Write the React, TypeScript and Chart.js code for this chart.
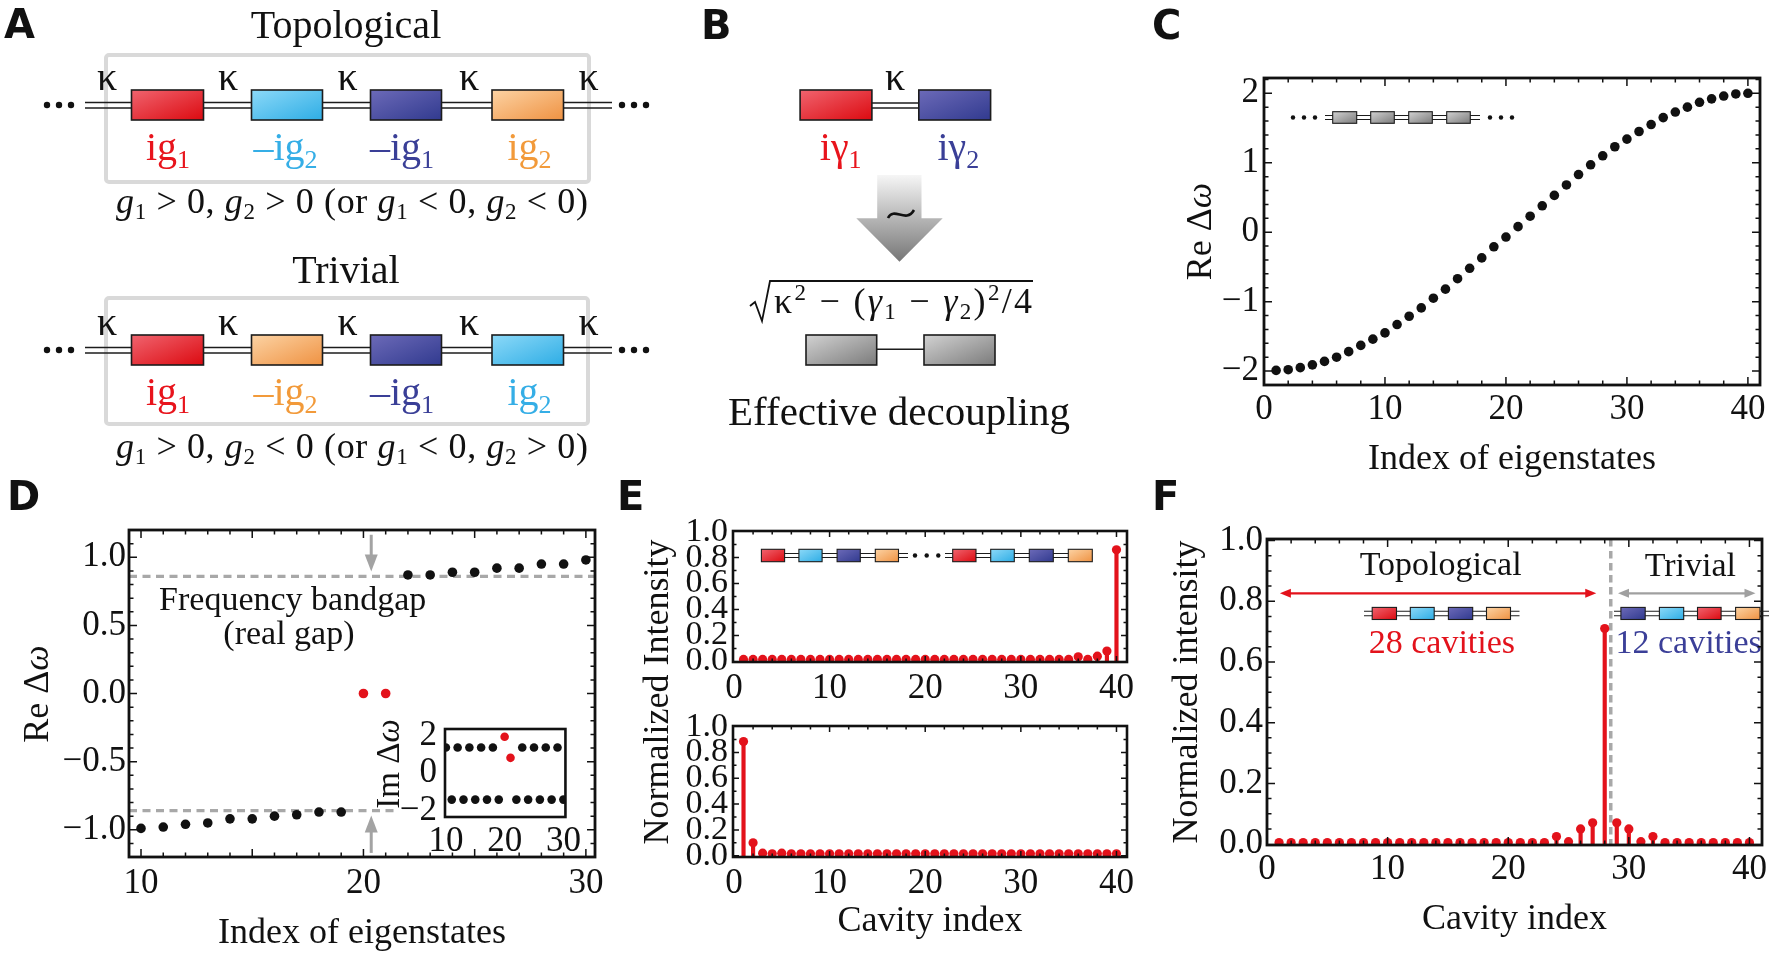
import React, { useEffect, useRef } from 'react';
import { Chart, registerables } from 'chart.js';

Chart.register(...registerables);

const SERIF = "'Liberation Serif', 'Times New Roman', Times, serif";
const SANS = "'DejaVu Sans', 'Liberation Sans', Arial, sans-serif";
const INK = '#111111';
const RED = '#e3121b';
const NAVY_TXT = '#3b3f98';
const GRAY_ANN = '#a8a8a8';
const TICK_FONT = 35;

// ---------------- data ----------------
const eigenIndexC = [1, 2, 3, 4, 5, 6, 7, 8, 9, 10, 11, 12, 13, 14, 15, 16, 17, 18, 19, 20, 21, 22, 23, 24, 25, 26, 27, 28, 29, 30, 31, 32, 33, 34, 35, 36, 37, 38, 39, 40];
const reOmegaC = [-1.99, -1.98, -1.95, -1.91, -1.86, -1.8, -1.72, -1.63, -1.54, -1.45, -1.33, -1.21, -1.09, -0.95, -0.82, -0.67, -0.52, -0.37, -0.21, -0.07, 0.08, 0.23, 0.38, 0.53, 0.68, 0.83, 0.97, 1.1, 1.23, 1.34, 1.45, 1.55, 1.65, 1.73, 1.8, 1.87, 1.92, 1.96, 1.99, 2.0];

const eigenIndexD = [10, 11, 12, 13, 14, 15, 16, 17, 18, 19, 20, 21, 22, 23, 24, 25, 26, 27, 28, 29, 30];
const reOmegaD = [-0.99, -0.98, -0.96, -0.95, -0.92, -0.92, -0.9, -0.89, -0.87, -0.87, 0.0, 0.0, 0.87, 0.87, 0.89, 0.89, 0.92, 0.92, 0.95, 0.95, 0.98];
const imOmegaD = [1.37, -1.41, 1.37, -1.41, 1.37, -1.41, 1.37, -1.41, 1.37, -1.41, 1.95, 0.82, -1.41, 1.37, -1.41, 1.37, -1.41, 1.37, -1.41, 1.37, -1.41];
const zeroModeIndex = [20, 21];
const gapEdges = [0.86, -0.86];

const cavityIndex = [1, 2, 3, 4, 5, 6, 7, 8, 9, 10, 11, 12, 13, 14, 15, 16, 17, 18, 19, 20, 21, 22, 23, 24, 25, 26, 27, 28, 29, 30, 31, 32, 33, 34, 35, 36, 37, 38, 39, 40];
const intensityETop = [0.015, 0.015, 0.015, 0.015, 0.015, 0.015, 0.015, 0.015, 0.015, 0.015, 0.015, 0.015, 0.015, 0.015, 0.015, 0.015, 0.015, 0.015, 0.015, 0.015, 0.015, 0.015, 0.015, 0.015, 0.015, 0.015, 0.015, 0.015, 0.015, 0.015, 0.015, 0.015, 0.015, 0.015, 0.015, 0.035, 0.015, 0.04, 0.08, 0.86];
const intensityEBottom = [0.885, 0.1, 0.02, 0.015, 0.02, 0.015, 0.015, 0.015, 0.015, 0.015, 0.015, 0.015, 0.015, 0.015, 0.015, 0.015, 0.015, 0.015, 0.015, 0.015, 0.015, 0.015, 0.015, 0.015, 0.015, 0.015, 0.015, 0.015, 0.015, 0.015, 0.015, 0.015, 0.015, 0.015, 0.015, 0.015, 0.015, 0.015, 0.015, 0.015];
const intensityF = [0.005, 0.005, 0.005, 0.005, 0.005, 0.005, 0.005, 0.005, 0.005, 0.005, 0.005, 0.005, 0.005, 0.005, 0.005, 0.005, 0.005, 0.005, 0.005, 0.005, 0.005, 0.005, 0.005, 0.025, 0.008, 0.05, 0.07, 0.71, 0.07, 0.05, 0.008, 0.025, 0.005, 0.005, 0.005, 0.005, 0.005, 0.005, 0.005, 0.005];
const interfaceF = 28.5;

const ticksC_X = [0, 10, 20, 30, 40];
const ticksC_Y = [-2, -1, 0, 1, 2];
const ticksD_X = [10, 20, 30];
const ticksD_Y = [-1, -0.5, 0, 0.5, 1];
const ticksIn_X = [10, 20, 30];
const ticksIn_Y = [-2, 0, 2];
const ticksE_X = [0, 10, 20, 30, 40];
const ticksE_Y = [0, 0.2, 0.4, 0.6, 0.8, 1.0];

// ---------------- helpers ----------------
const steps = (a: number, b: number, s: number) => {
  const r: number[] = [];
  for (let v = a; v <= b + 1e-9; v += s) r.push(+v.toFixed(4));
  return r;
};

const fmt = (dec: number) => (v: any) => {
  const n = Number(v);
  const s = (Math.abs(n) < 1e-9 ? 0 : n).toFixed(dec);
  return s.replace('-', '\u2212');
};

function xAxis(o: any) {
  return {
    type: 'linear',
    position: 'bottom',
    min: o.min,
    max: o.max,
    offset: false,
    afterBuildTicks: (s: any) => {
      s.ticks = o.ticks.map((v: number) => ({ value: v }));
    },
    afterFit: (s: any) => {
      s.height = o.size;
    },
    grid: { display: false, drawTicks: false },
    border: { display: false },
    ticks: {
      autoSkip: false,
      maxRotation: 0,
      minRotation: 0,
      padding: o.pad,
      color: INK,
      font: { family: SERIF, size: o.font || TICK_FONT, lineHeight: 1.2 },
      callback: fmt(o.dec),
    },
    title: o.title
      ? { display: true, text: o.title, color: INK, font: { family: SERIF, size: 36, lineHeight: 1 }, padding: { top: 0, bottom: o.tpad } }
      : { display: false },
  };
}

function yAxis(o: any) {
  return {
    type: 'linear',
    position: 'left',
    min: o.min,
    max: o.max,
    afterBuildTicks: (s: any) => {
      s.ticks = o.ticks.map((v: number) => ({ value: v }));
    },
    afterFit: (s: any) => {
      s.width = o.size;
    },
    grid: { display: false, drawTicks: false },
    border: { display: false },
    ticks: {
      autoSkip: false,
      padding: o.pad,
      color: INK,
      font: { family: SERIF, size: o.font || TICK_FONT, lineHeight: 1.2 },
      callback: fmt(o.dec),
    },
    title: o.title
      ? { display: true, text: o.title, color: INK, font: { family: SERIF, size: 36, lineHeight: 1 }, padding: { top: o.tpad, bottom: 0 } }
      : { display: false },
  };
}

function frame(spec: any) {
  return {
    id: 'mframe',
    afterDatasetsDraw(chart: any) {
      const { ctx, chartArea: a } = chart;
      const xs = chart.scales.x;
      const ys = chart.scales.y;
      ctx.save();
      ctx.strokeStyle = INK;
      ctx.lineWidth = 1.5;
      ctx.beginPath();
      const tx = (v: number, len: number) => {
        const p = xs.getPixelForValue(v);
        if (p < a.left + 1 || p > a.right - 1) return;
        ctx.moveTo(p, a.bottom);
        ctx.lineTo(p, a.bottom - len);
        ctx.moveTo(p, a.top);
        ctx.lineTo(p, a.top + len);
      };
      const ty = (v: number, len: number) => {
        const p = ys.getPixelForValue(v);
        if (p < a.top + 1 || p > a.bottom - 1) return;
        ctx.moveTo(a.left, p);
        ctx.lineTo(a.left + len, p);
        ctx.moveTo(a.right, p);
        ctx.lineTo(a.right - len, p);
      };
      (spec.xMaj || []).forEach((v: number) => tx(v, spec.maj));
      (spec.xMin || []).forEach((v: number) => tx(v, spec.min));
      (spec.yMaj || []).forEach((v: number) => ty(v, spec.maj));
      (spec.yMin || []).forEach((v: number) => ty(v, spec.min));
      ctx.stroke();
      ctx.lineWidth = spec.lw || 2.8;
      ctx.strokeRect(a.left, a.top, a.right - a.left, a.bottom - a.top);
      ctx.restore();
    },
  };
}

function head(ctx: any, tx: number, ty: number, dx: number, dy: number, len: number, half: number) {
  const bx = tx - dx * len;
  const by = ty - dy * len;
  const px = -dy;
  const py = dx;
  ctx.beginPath();
  ctx.moveTo(tx, ty);
  ctx.lineTo(bx + px * half, by + py * half);
  ctx.lineTo(bx - px * half, by - py * half);
  ctx.closePath();
  ctx.fill();
}

function vArrow(ctx: any, x: number, y0: number, y1: number, color: string) {
  const dir = Math.sign(y1 - y0);
  ctx.strokeStyle = color;
  ctx.fillStyle = color;
  ctx.lineWidth = 3;
  ctx.beginPath();
  ctx.moveTo(x, y0);
  ctx.lineTo(x, y1 - dir * 12);
  ctx.stroke();
  head(ctx, x, y1, 0, dir, 17, 6.5);
}

function hArrow(ctx: any, x0: number, x1: number, y: number, color: string) {
  ctx.strokeStyle = color;
  ctx.fillStyle = color;
  ctx.lineWidth = 2.2;
  ctx.beginPath();
  ctx.moveTo(x0 + 8, y);
  ctx.lineTo(x1 - 8, y);
  ctx.stroke();
  head(ctx, x0, y, -1, 0, 11, 4.5);
  head(ctx, x1, y, 1, 0, 11, 4.5);
}

const baseOpts = (pad: any) => ({
  animation: false,
  responsive: false,
  maintainAspectRatio: false,
  layout: { padding: pad, autoPadding: false },
  plugins: { legend: { display: false }, tooltip: { enabled: false } },
  events: [],
});

const stemData = (vals: number[]) => cavityIndex.map((x, i) => ({ x, y: vals[i] }));

function stemDatasets(vals: number[]) {
  const pts = stemData(vals);
  return [
    { type: 'bar', data: pts, backgroundColor: RED, borderWidth: 0, barThickness: 3.5, grouped: false, order: 2 },
    { type: 'scatter', data: pts, backgroundColor: RED, pointBackgroundColor: RED, pointBorderWidth: 0, pointRadius: 4.6, clip: 0, order: 1 },
  ];
}

// ---------------- chart configs ----------------
function configC(): any {
  return {
    type: 'scatter',
    data: {
      datasets: [
        { data: eigenIndexC.map((x, i) => ({ x, y: reOmegaC[i] })), pointBackgroundColor: INK, pointBorderWidth: 0, pointRadius: 4.8 },
      ],
    },
    options: {
      ...baseOpts({ left: 0, right: 16, top: 38, bottom: 0 }),
      scales: {
        x: xAxis({ min: 0, max: 41, ticks: ticksC_X, dec: 0, pad: 4, size: 105, title: 'Index of eigenstates', tpad: 12 }),
        y: yAxis({ min: -2.2, max: 2.22, ticks: ticksC_Y, dec: 0, pad: 5, size: 114 }),
      },
    },
    plugins: [
      frame({ xMaj: steps(0, 40, 10), xMin: steps(0, 40, 2), yMaj: steps(-2, 2, 1), yMin: steps(-2.2, 2.2, 0.2), maj: 8, min: 4.5 }),
    ],
  };
}

function configD(): any {
  const pts = eigenIndexD.map((x, i) => ({ x, y: reOmegaD[i] }));
  const annot = {
    id: 'dAnnot',
    beforeDatasetsDraw(chart: any) {
      const { ctx, chartArea: a } = chart;
      const xs = chart.scales.x;
      const ys = chart.scales.y;
      ctx.save();
      ctx.strokeStyle = GRAY_ANN;
      ctx.lineWidth = 3.2;
      ctx.setLineDash([8, 5.5]);
      ctx.beginPath();
      const yU = ys.getPixelForValue(gapEdges[0]);
      const yL = ys.getPixelForValue(gapEdges[1]);
      ctx.moveTo(a.left, yU);
      ctx.lineTo(a.right, yU);
      ctx.moveTo(a.left, yL);
      ctx.lineTo(xs.getPixelForValue(21.55), yL);
      ctx.stroke();
      ctx.setLineDash([]);
      const ax = xs.getPixelForValue(20.35);
      vArrow(ctx, ax, ys.getPixelForValue(1.165), ys.getPixelForValue(0.895), '#a3a3a3');
      vArrow(ctx, ax, ys.getPixelForValue(-1.17), ys.getPixelForValue(-0.895), '#a3a3a3');
      ctx.fillStyle = INK;
      ctx.font = `34px ${SERIF}`;
      ctx.textAlign = 'center';
      ctx.textBaseline = 'alphabetic';
      ctx.fillText('Frequency bandgap', xs.getPixelForValue(16.82), ys.getPixelForValue(0.612));
      ctx.fillText('(real gap)', xs.getPixelForValue(16.65), ys.getPixelForValue(0.36));
      ctx.restore();
    },
  };
  return {
    type: 'scatter',
    data: {
      datasets: [
        { data: pts.filter((p) => !zeroModeIndex.includes(p.x)), pointBackgroundColor: INK, pointBorderWidth: 0, pointRadius: 4.8 },
        { data: pts.filter((p) => zeroModeIndex.includes(p.x)), pointBackgroundColor: RED, pointBorderWidth: 0, pointRadius: 4.8 },
      ],
    },
    options: {
      ...baseOpts({ left: 0, right: 15, top: 40, bottom: 0 }),
      scales: {
        x: xAxis({ min: 9.46, max: 30.41, ticks: ticksD_X, dec: 0, pad: 6, size: 97, title: 'Index of eigenstates', tpad: 2 }),
        y: yAxis({ min: -1.2, max: 1.2, ticks: ticksD_Y, dec: 1, pad: 3, size: 129 }),
      },
    },
    plugins: [
      annot,
      frame({ xMaj: steps(10, 30, 5), xMin: steps(10, 30, 1), yMaj: steps(-1, 1, 0.5), yMin: steps(-1.2, 1.2, 0.1), maj: 8, min: 4.5 }),
    ],
  };
}

function configInset(): any {
  const pts = eigenIndexD.map((x, i) => ({ x, y: imOmegaD[i] }));
  const bg = {
    id: 'insetBg',
    beforeDraw(chart: any) {
      const { ctx, chartArea: a } = chart;
      ctx.save();
      ctx.fillStyle = '#ffffff';
      ctx.fillRect(a.left, a.top, a.right - a.left, a.bottom - a.top);
      ctx.restore();
    },
  };
  return {
    type: 'scatter',
    data: {
      datasets: [
        { data: pts.filter((p) => !zeroModeIndex.includes(p.x)), pointBackgroundColor: INK, pointBorderWidth: 0, pointRadius: 4.3 },
        { data: pts.filter((p) => zeroModeIndex.includes(p.x)), pointBackgroundColor: RED, pointBorderWidth: 0, pointRadius: 4.3 },
      ],
    },
    options: {
      ...baseOpts({ left: 0, right: 7, top: 17, bottom: 0 }),
      scales: {
        x: xAxis({ min: 9.85, max: 30.35, ticks: ticksIn_X, dec: 0, pad: 4, size: 43 }),
        y: yAxis({ min: -2.34, max: 2.36, ticks: ticksIn_Y, dec: 0, pad: 8, size: 70 }),
      },
    },
    plugins: [bg, frame({ xMaj: [], xMin: [], yMaj: [], yMin: [], maj: 0, min: 0, lw: 2.6 })],
  };
}

function configE(vals: number[], bottom: boolean): any {
  return {
    type: 'bar',
    data: { datasets: stemDatasets(vals) },
    options: {
      ...baseOpts({ left: 0, right: 13, top: 26, bottom: 0 }),
      scales: {
        x: xAxis({
          min: -0.1,
          max: 41.1,
          ticks: ticksE_X,
          dec: 0,
          pad: 5.5,
          size: bottom ? 97 : 53,
          title: bottom ? 'Cavity index' : undefined,
          tpad: 14,
        }),
        y: yAxis({ min: bottom ? -0.01 : -0.005, max: 1.005, ticks: ticksE_Y, dec: 1, pad: 5, size: 53, font: 34 }),
      },
    },
    plugins: [
      frame({ xMaj: steps(0, 40, 10), xMin: steps(0, 40, 2), yMaj: steps(0, 1, 0.2), yMin: steps(0, 1, 0.1), maj: 6, min: 3.5, lw: 2.6 }),
    ],
  };
}

function configF(): any {
  const annot = {
    id: 'fAnnot',
    beforeDatasetsDraw(chart: any) {
      const { ctx, chartArea: a } = chart;
      const xs = chart.scales.x;
      const ys = chart.scales.y;
      ctx.save();
      ctx.strokeStyle = GRAY_ANN;
      ctx.lineWidth = 3.5;
      ctx.setLineDash([7.5, 4.5]);
      ctx.beginPath();
      const bx = xs.getPixelForValue(interfaceF);
      ctx.moveTo(bx, a.top);
      ctx.lineTo(bx, a.bottom);
      ctx.stroke();
      ctx.setLineDash([]);
      const yArr = ys.getPixelForValue(0.826);
      hArrow(ctx, xs.getPixelForValue(1.07), xs.getPixelForValue(27.3), yArr, RED);
      hArrow(ctx, xs.getPixelForValue(29.1), xs.getPixelForValue(40.5), yArr, '#a0a0a0');
      ctx.font = `34px ${SERIF}`;
      ctx.textAlign = 'center';
      ctx.textBaseline = 'alphabetic';
      ctx.fillStyle = INK;
      ctx.fillText('Topological', xs.getPixelForValue(14.4), ys.getPixelForValue(0.885));
      ctx.fillText('Trivial', xs.getPixelForValue(35.1), ys.getPixelForValue(0.883));
      ctx.fillStyle = RED;
      ctx.fillText('28 cavities', xs.getPixelForValue(14.5), ys.getPixelForValue(0.629));
      ctx.fillStyle = NAVY_TXT;
      ctx.fillText('12 cavities', xs.getPixelForValue(34.96), ys.getPixelForValue(0.629));
      ctx.restore();
    },
  };
  return {
    type: 'bar',
    data: { datasets: stemDatasets(intensityF) },
    options: {
      ...baseOpts({ left: 0, right: 14, top: 39, bottom: 0 }),
      scales: {
        x: xAxis({ min: 0, max: 41.04, ticks: ticksE_X, dec: 0, pad: 4, size: 109, title: 'Cavity index', tpad: 16 }),
        y: yAxis({ min: -0.003, max: 1.005, ticks: ticksE_Y, dec: 1, pad: 4, size: 117, title: 'Normalized intensity', tpad: 19.5 }),
      },
    },
    plugins: [
      annot,
      frame({ xMaj: steps(0, 40, 10), xMin: steps(0, 40, 2), yMaj: steps(0, 1, 0.2), yMin: steps(0, 1, 0.05), maj: 8, min: 4.5 }),
    ],
  };
}

// ---------------- SVG diagram pieces ----------------
const FILL: any = { r: 'url(#gR)', c: 'url(#gC)', n: 'url(#gN)', o: 'url(#gO)', g: 'url(#gG)' };
const TXT: any = { r: '#e8141c', c: '#35aee6', n: '#3a3f97', o: '#f29a3a' };

function DLine({ x1, x2, y, gap, w }: any) {
  return (
    <g stroke="#1c1c1c" strokeWidth={w}>
      <line x1={x1} x2={x2} y1={y - gap / 2} y2={y - gap / 2} />
      <line x1={x1} x2={x2} y1={y + gap / 2} y2={y + gap / 2} />
    </g>
  );
}

function Boxes({ items, y1, y2, sw }: any) {
  return (
    <g>
      {items.map((b: any, i: number) => (
        <rect key={i} x={b[0]} y={y1} width={b[1] - b[0]} height={y2 - y1} fill={FILL[b[2]]} stroke="#1c1c1c" strokeWidth={sw} />
      ))}
    </g>
  );
}

function Dots({ xs, y, r }: any) {
  return (
    <g fill={INK}>
      {xs.map((x: number, i: number) => (
        <circle key={i} cx={x} cy={y} r={r} />
      ))}
    </g>
  );
}

function GLabel({ x, y, color, neg, sub }: any) {
  return (
    <text x={x} y={y} textAnchor="middle" fill={color} fontSize={40}>
      {neg ? '\u2013' : ''}ig<tspan fontSize={26} dy={8}>{sub}</tspan>
    </text>
  );
}

function Cond({ y, signs }: any) {
  return (
    <text x={116} y={y} fontSize={36} textLength={472} lengthAdjust="spacing">
      <tspan fontStyle="italic">g</tspan>
      <tspan fontSize={23} dy={6}>1</tspan>
      <tspan dy={-6}>{` ${signs[0]} 0, `}</tspan>
      <tspan fontStyle="italic">g</tspan>
      <tspan fontSize={23} dy={6}>2</tspan>
      <tspan dy={-6}>{` ${signs[1]} 0 (or `}</tspan>
      <tspan fontStyle="italic">g</tspan>
      <tspan fontSize={23} dy={6}>1</tspan>
      <tspan dy={-6}>{` ${signs[2]} 0, `}</tspan>
      <tspan fontStyle="italic">g</tspan>
      <tspan fontSize={23} dy={6}>2</tspan>
      <tspan dy={-6}>{` ${signs[3]} 0)`}</tspan>
    </text>
  );
}

function ChainA({ dy, colors, labels }: any) {
  const bx = [
    [131.5, 203.5],
    [251.5, 322.5],
    [370.5, 441.5],
    [492, 563.5],
  ];
  const kx = [107, 228, 347.5, 469, 588.5];
  const lx = [168, 285.5, 402, 529.5];
  return (
    <g>
      {kx.map((x, i) => (
        <text key={i} x={x} y={90 + dy} textAnchor="middle" fontSize={40}>
          κ
        </text>
      ))}
      <DLine x1={85} x2={612} y={105.3 + dy} gap={5.5} w={1.5} />
      <Dots xs={[47, 59, 71]} y={105 + dy} r={3.2} />
      <Dots xs={[622, 634, 646]} y={105 + dy} r={3.2} />
      <Boxes items={bx.map((b, i) => [b[0], b[1], colors[i]])} y1={90 + dy} y2={120 + dy} sw={1.6} />
      {labels.map((l: any, i: number) => (
        <GLabel key={i} x={lx[i]} y={160 + dy} color={TXT[l[0]]} neg={l[1]} sub={l[2]} />
      ))}
    </g>
  );
}

function Diagrams() {
  return (
    <svg
      width={1776}
      height={954}
      style={{ position: 'absolute', left: 0, top: 0, pointerEvents: 'none' }}
      fontFamily={SERIF}
      fill={INK}
    >
      <defs>
        <linearGradient id="gR" x1="0" y1="0" x2="1" y2="1">
          <stop offset="0" stopColor="#f0646f" />
          <stop offset="1" stopColor="#dc0a10" />
        </linearGradient>
        <linearGradient id="gC" x1="0" y1="0" x2="1" y2="1">
          <stop offset="0" stopColor="#8cd9f8" />
          <stop offset="1" stopColor="#2eade5" />
        </linearGradient>
        <linearGradient id="gN" x1="0" y1="0" x2="1" y2="1">
          <stop offset="0" stopColor="#6c6ab8" />
          <stop offset="1" stopColor="#313a8f" />
        </linearGradient>
        <linearGradient id="gO" x1="0" y1="0" x2="1" y2="1">
          <stop offset="0" stopColor="#fcd3a4" />
          <stop offset="1" stopColor="#ef9242" />
        </linearGradient>
        <linearGradient id="gG" x1="0" y1="0" x2="1" y2="1">
          <stop offset="0" stopColor="#d2d2d2" />
          <stop offset="1" stopColor="#7b7b7b" />
        </linearGradient>
        <linearGradient id="gArrow" x1="0" y1="0" x2="0" y2="1">
          <stop offset="0" stopColor="#f6f6f6" />
          <stop offset="1" stopColor="#767676" />
        </linearGradient>
      </defs>

      {/* panel letters */}
      <g fontFamily={SANS} fontWeight="bold" fontSize={40}>
        <text x={4} y={38}>A</text>
        <text x={701} y={39}>B</text>
        <text x={1152} y={39}>C</text>
        <text x={7} y={510}>D</text>
        <text x={617} y={510}>E</text>
        <text x={1152} y={510}>F</text>
      </g>

      {/* ---- panel A ---- */}
      <text x={346} y={38} textAnchor="middle" fontSize={40}>
        Topological
      </text>
      <rect x={106} y={55} width={483} height={127} rx={3} fill="none" stroke="#d9d9d9" strokeWidth={4} />
      <ChainA
        dy={0}
        colors={['r', 'c', 'n', 'o']}
        labels={[
          ['r', false, '1'],
          ['c', true, '2'],
          ['n', true, '1'],
          ['o', false, '2'],
        ]}
      />
      <Cond y={213} signs={['>', '>', '<', '<']} />

      <text x={346} y={283} textAnchor="middle" fontSize={40}>
        Trivial
      </text>
      <rect x={106} y={298} width={482} height={126} rx={3} fill="none" stroke="#d9d9d9" strokeWidth={4} />
      <ChainA
        dy={245}
        colors={['r', 'o', 'n', 'c']}
        labels={[
          ['r', false, '1'],
          ['o', true, '2'],
          ['n', true, '1'],
          ['c', false, '2'],
        ]}
      />
      <Cond y={458} signs={['>', '<', '<', '>']} />

      {/* ---- panel B ---- */}
      <text x={895} y={90} textAnchor="middle" fontSize={40}>
        κ
      </text>
      <DLine x1={871} x2={920} y={105.5} gap={5} w={1.5} />
      <Boxes
        items={[
          [800.1, 871.9, 'r'],
          [918.8, 990.6, 'n'],
        ]}
        y1={90}
        y2={120}
        sw={1.6}
      />
      <text x={840.7} y={160} textAnchor="middle" fontSize={40} fill={TXT.r}>
        iγ<tspan fontSize={26} dy={8}>1</tspan>
      </text>
      <text x={958.4} y={160} textAnchor="middle" fontSize={40} fill={TXT.n}>
        iγ<tspan fontSize={26} dy={8}>2</tspan>
      </text>
      <polygon
        points="877.2,175 921.5,175 921.5,218.3 942.7,218.3 899.5,261.7 856.3,218.3 877.2,218.3"
        fill="url(#gArrow)"
      />
      <path d="M888 218 C 894 206, 906 224, 914 210" fill="none" stroke={INK} strokeWidth={2.6} />
      <path d="M750 306 L755 302 L762 321 L770 281 L1033 281" fill="none" stroke={INK} strokeWidth={1.8} />
      <text x={774} y={313} fontSize={36} textLength={258} lengthAdjust="spacing">
        κ<tspan fontSize={23} dy={-13}>2</tspan>
        <tspan dy={13}> − (</tspan>
        <tspan fontStyle="italic">γ</tspan>
        <tspan fontSize={23} dy={6}>1</tspan>
        <tspan dy={-6}> − </tspan>
        <tspan fontStyle="italic">γ</tspan>
        <tspan fontSize={23} dy={6}>2</tspan>
        <tspan dy={-6}>)</tspan>
        <tspan fontSize={23} dy={-13}>2</tspan>
        <tspan dy={13}>/4</tspan>
      </text>
      <line x1={876} x2={924} y1={349.3} y2={349.3} stroke="#1c1c1c" strokeWidth={1.6} />
      <Boxes
        items={[
          [806, 876.7, 'g'],
          [924, 995, 'g'],
        ]}
        y1={335}
        y2={365}
        sw={1.6}
      />
      <text x={899} y={425} textAnchor="middle" fontSize={41}>
        Effective decoupling
      </text>

      {/* ---- panel C titles / inset ---- */}
      <text transform="translate(1211,231.5) rotate(-90)" textAnchor="middle" fontSize={36}>
        Re Δ<tspan fontStyle="italic">ω</tspan>
      </text>
      <Dots xs={[1293, 1304, 1315]} y={117.5} r={2.2} />
      <Dots xs={[1490, 1501, 1512]} y={117.5} r={2.2} />
      <DLine x1={1325} x2={1480} y={117.5} gap={4} w={1.2} />
      <Boxes
        items={[
          [1332.7, 1356.7, 'g'],
          [1370.7, 1394.3, 'g'],
          [1408.7, 1432.3, 'g'],
          [1446.7, 1470.3, 'g'],
        ]}
        y1={111.7}
        y2={123.3}
        sw={1.1}
      />

      {/* ---- panel D titles ---- */}
      <text transform="translate(47.5,694) rotate(-90)" textAnchor="middle" fontSize={36}>
        Re Δ<tspan fontStyle="italic">ω</tspan>
      </text>
      <text transform="translate(399,764) rotate(-90)" textAnchor="middle" fontSize={33}>
        Im Δ<tspan fontStyle="italic">ω</tspan>
      </text>

      {/* ---- panel E ---- */}
      <text transform="translate(668,692) rotate(-90)" textAnchor="middle" fontSize={36}>
        Normalized Intensity
      </text>
      <DLine x1={761} x2={908} y={555.5} gap={4} w={1.2} />
      <DLine x1={945} x2={1092} y={555.5} gap={4} w={1.2} />
      <Dots xs={[915, 926.7, 938.3]} y={555.5} r={2.2} />
      <Boxes
        items={[
          [761.4, 784.6, 'r'],
          [798.9, 822.1, 'c'],
          [837.1, 860.3, 'n'],
          [875.3, 898.5, 'o'],
          [952.7, 976, 'r'],
          [990.7, 1014.3, 'c'],
          [1029.3, 1053.3, 'n'],
          [1068.3, 1092.3, 'o'],
        ]}
        y1={549.3}
        y2={561.7}
        sw={1.1}
      />

      {/* ---- panel F chains ---- */}
      <DLine x1={1364} x2={1519.5} y={613.5} gap={4.5} w={1.2} />
      <Boxes
        items={[
          [1372.2, 1396.5, 'r'],
          [1410.3, 1434.2, 'c'],
          [1448.4, 1472.7, 'n'],
          [1486.5, 1510.5, 'o'],
        ]}
        y1={607.4}
        y2={619.5}
        sw={1.1}
      />
      <DLine x1={1614} x2={1769} y={613.5} gap={4.5} w={1.2} />
      <Boxes
        items={[
          [1620.9, 1645.2, 'n'],
          [1659.4, 1683.7, 'c'],
          [1697.5, 1721.1, 'r'],
          [1735.6, 1760, 'o'],
        ]}
        y1={607.4}
        y2={619.5}
        sw={1.1}
      />
    </svg>
  );
}

// ---------------- component ----------------
export default function App() {
  const cRef = useRef<HTMLCanvasElement>(null);
  const dRef = useRef<HTMLCanvasElement>(null);
  const inRef = useRef<HTMLCanvasElement>(null);
  const e1Ref = useRef<HTMLCanvasElement>(null);
  const e2Ref = useRef<HTMLCanvasElement>(null);
  const fRef = useRef<HTMLCanvasElement>(null);

  useEffect(() => {
    const charts: Chart[] = [];
    charts.push(new Chart(cRef.current as any, configC()));
    charts.push(new Chart(dRef.current as any, configD()));
    charts.push(new Chart(e1Ref.current as any, configE(intensityETop, false)));
    charts.push(new Chart(e2Ref.current as any, configE(intensityEBottom, true)));
    charts.push(new Chart(fRef.current as any, configF()));
    charts.push(new Chart(inRef.current as any, configInset()));
    return () => charts.forEach((c) => c.destroy());
  }, []);

  const cv = (l: number, t: number): React.CSSProperties => ({ position: 'absolute', left: l, top: t });

  return (
    <div style={{ position: 'absolute', left: 0, top: 0, width: 1776, height: 954, background: '#fff', overflow: 'hidden' }}>
      <canvas ref={cRef} width={626} height={450} style={cv(1150, 40)} />
      <canvas ref={dRef} width={610} height={464} style={cv(0, 490)} />
      <canvas ref={e1Ref} width={460} height={210} style={cv(680, 505)} />
      <canvas ref={e2Ref} width={460} height={254} style={cv(680, 700)} />
      <canvas ref={fRef} width={626} height={454} style={cv(1150, 500)} />
      <canvas ref={inRef} width={210} height={160} style={cv(375, 700)} />
      <Diagrams />
    </div>
  );
}
